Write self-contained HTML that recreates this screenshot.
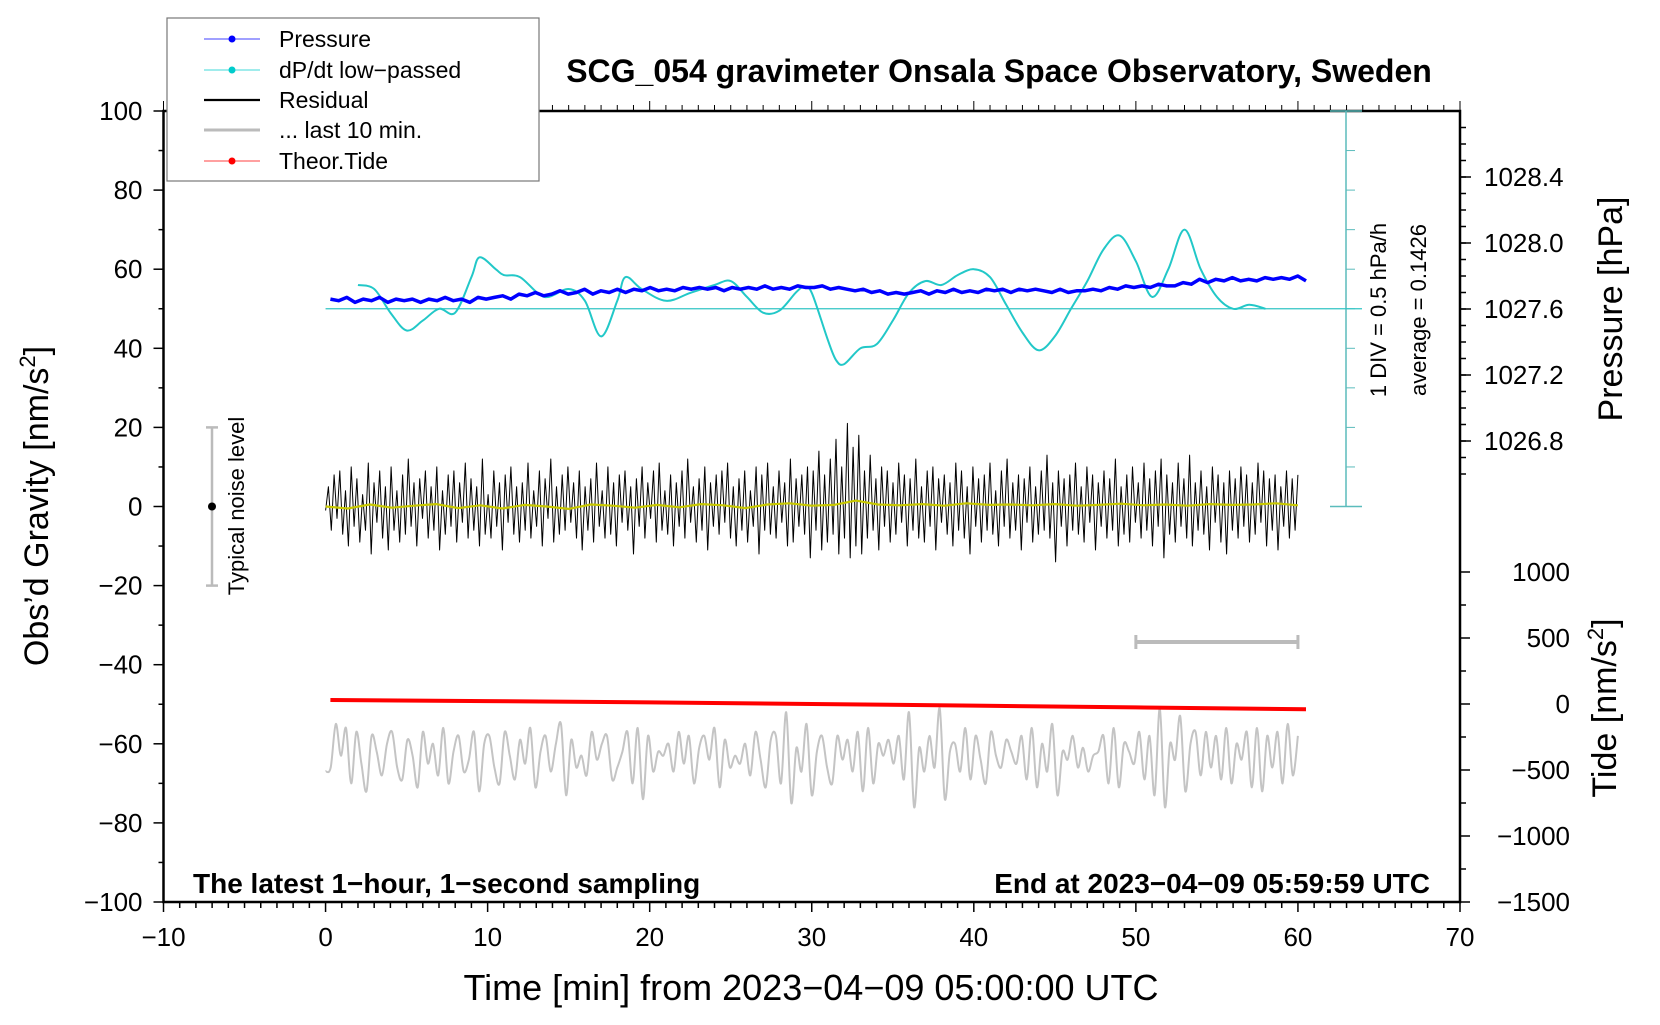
<!DOCTYPE html>
<html><head><meta charset="utf-8"><style>
html,body{margin:0;padding:0;background:#fff;}
svg text{font-family:"Liberation Sans",sans-serif;}
</style></head><body>
<svg id="chart" width="1660" height="1020" viewBox="0 0 1660 1020" xmlns="http://www.w3.org/2000/svg">
<g id="axes"></g>
<g id="marks"></g>
<text x="999" y="82" font-size="32" font-weight="bold" text-anchor="middle">SCG_054 gravimeter Onsala Space Observatory, Sweden</text>
<text x="811" y="1000" font-size="36" text-anchor="middle">Time [min] from 2023−04−09 05:00:00 UTC</text>
<text transform="translate(48,506) rotate(-90)" font-size="34" text-anchor="middle">Obs’d Gravity [nm/s<tspan font-size="22" dy="-13">2</tspan><tspan dy="13">]</tspan></text>
<text transform="translate(1622,309) rotate(-90)" font-size="34" text-anchor="middle">Pressure [hPa]</text>
<text transform="translate(1616,708) rotate(-90)" font-size="34" text-anchor="middle">Tide [nm/s<tspan font-size="22" dy="-13">2</tspan><tspan dy="13">]</tspan></text>
<text x="193" y="893" font-size="28" font-weight="bold">The latest 1−hour, 1−second sampling</text>
<text x="1430" y="893" font-size="28" font-weight="bold" text-anchor="end">End at 2023−04−09 05:59:59 UTC</text>
<text transform="translate(1386,310) rotate(-90)" font-size="22" text-anchor="middle">1 DIV = 0.5 hPa/h</text>
<text transform="translate(1426,310) rotate(-90)" font-size="22" text-anchor="middle">average = 0.1426</text>
<text transform="translate(244,506) rotate(-90)" font-size="22" text-anchor="middle">Typical noise level</text>
<g>
<rect x="167" y="18" width="372" height="163" fill="#fff" stroke="#777" stroke-width="1.2"/>
<line x1="204" y1="39" x2="260" y2="39" stroke="#00f" stroke-width="0.8"/><circle cx="232" cy="39" r="3.5" fill="#00f"/>
<text x="279" y="47" font-size="23">Pressure</text>
<line x1="204" y1="70" x2="260" y2="70" stroke="#0cc" stroke-width="0.8"/><circle cx="232" cy="70" r="3.5" fill="#0cc"/>
<text x="279" y="78" font-size="23">dP/dt low−passed</text>
<line x1="204" y1="100" x2="260" y2="100" stroke="#000" stroke-width="2.2"/>
<text x="279" y="108" font-size="23">Residual</text>
<line x1="204" y1="130" x2="260" y2="130" stroke="#bbb" stroke-width="3"/>
<text x="279" y="138" font-size="23">... last 10 min.</text>
<line x1="204" y1="161" x2="260" y2="161" stroke="#f00" stroke-width="0.8"/><circle cx="232" cy="161" r="3.5" fill="#f00"/>
<text x="279" y="169" font-size="23">Theor.Tide</text>
</g>
</svg>
<script>
// ---- data ----
const xTicks = [-10,0,10,20,30,40,50,60,70];
const yTicks = [100,80,60,40,20,0,-20,-40,-60,-80,-100];
const pTicks = [1028.4,1028.0,1027.6,1027.2,1026.8];
const tideTicks = [1000,500,0,-500,-1000,-1500];
const pressureV = [1027.66,1027.65,1027.67,1027.64,1027.66,1027.65,1027.67,1027.64,1027.66,1027.65,1027.66,1027.64,1027.66,1027.65,1027.67,1027.65,1027.66,1027.64,1027.67,1027.66,1027.67,1027.68,1027.66,1027.69,1027.68,1027.70,1027.68,1027.69,1027.71,1027.69,1027.70,1027.72,1027.69,1027.71,1027.70,1027.72,1027.70,1027.72,1027.71,1027.73,1027.71,1027.72,1027.71,1027.73,1027.72,1027.73,1027.72,1027.73,1027.71,1027.73,1027.72,1027.73,1027.72,1027.74,1027.72,1027.73,1027.72,1027.74,1027.73,1027.73,1027.74,1027.72,1027.73,1027.72,1027.71,1027.72,1027.70,1027.71,1027.69,1027.70,1027.69,1027.70,1027.71,1027.69,1027.71,1027.70,1027.72,1027.70,1027.71,1027.70,1027.72,1027.71,1027.72,1027.70,1027.72,1027.71,1027.72,1027.71,1027.70,1027.72,1027.70,1027.71,1027.71,1027.72,1027.71,1027.73,1027.72,1027.74,1027.73,1027.74,1027.73,1027.75,1027.74,1027.74,1027.76,1027.75,1027.78,1027.76,1027.78,1027.77,1027.79,1027.77,1027.78,1027.77,1027.79,1027.78,1027.79,1027.78,1027.80,1027.77];
const dpdtT = [2,3,4,5,6,7,8,9,9.5,10.5,11,12,13.5,15,16,17,18,18.5,19.5,21,22.5,24,25,26,27,28,29,29.5,30,31,31.5,32,33,34,35,36,37,38,39,40,41,42,43,44,45,46,47,48,49,50,51,52,53,54,55,56,57,58];
const dpdtV = [56,55,49,44.5,47,50,49,58,63,60,58.5,58,53,55,52,43,52,58,55,52,54,56,57,53,49,49.5,54,55.5,54,42,37,36,40,41,47,54,57,56,58.5,60,58,51,44,39.5,43,50,57,65,68.5,62,53,60,70,60,53,50,51,50];
const residual = [-1,5,-6,8,-3,9,-7,4,-10,10,-5,7,-9,3,-6,11,-12,6,-4,9,-8,5,-11,10,-6,4,-9,8,-7,12,-5,6,-10,7,-3,9,-8,5,-6,10,-11,4,-7,8,-5,9,-9,6,-4,11,-8,7,-6,5,-10,12,-7,3,-8,9,-5,6,-11,8,-4,10,-7,5,-9,6,-6,11,-8,4,-5,9,-10,7,-3,12,-9,5,-7,8,-6,10,-4,6,-8,9,-11,5,-6,7,-9,11,-5,4,-8,10,-7,6,-10,8,-4,9,-6,5,-12,7,-5,10,-8,6,-3,9,-9,11,-6,4,-7,8,-10,6,-5,9,-8,12,-4,5,-9,7,-6,10,-11,6,-5,8,-7,9,-4,11,-8,5,-10,7,-6,9,-9,4,-5,10,-12,8,-6,11,-7,5,-8,9,-4,6,-10,12,-9,7,-5,8,-7,10,-13,9,-6,14,-11,8,-9,12,-7,17,-12,10,-8,21,-13,15,-10,18,-12,9,-8,13,-6,7,-11,10,-5,9,-9,6,-7,11,-4,8,-10,7,-6,12,-8,5,-9,9,-5,10,-11,7,-4,8,-7,6,-10,11,-6,9,-8,5,-12,10,-5,7,-9,8,-6,11,-7,4,-10,9,-5,12,-8,6,-6,8,-11,7,-4,10,-9,5,-7,9,-6,13,-8,6,-14,9,-5,7,-10,8,-6,11,-7,5,-9,10,-4,8,-11,6,-5,9,-8,7,-6,12,-10,5,-7,8,-9,10,-4,6,-8,11,-6,7,-10,9,-5,12,-13,8,-7,6,-9,11,-5,7,-8,13,-10,6,-6,9,-7,5,-11,10,-4,8,-9,6,-12,9,-6,7,-8,10,-5,8,-9,6,-7,11,-4,9,-10,7,-6,8,-11,5,-5,9,-8,7,-6,8];
const smooth = [0,-0.5,0.5,-0.3,0.2,0.6,-0.4,0.3,-0.5,0.4,0,-0.6,0.5,0.2,-0.3,0.4,-0.2,0.6,0.3,-0.4,0.5,0.8,0.2,0.4,1.5,0.5,0.3,0.6,0.2,0.8,0.4,0.5,0.3,0.6,0.2,0.4,0.7,0.3,0.5,0.2,0.6,0.4,0.5,0.8,0.3];
const last10 = [-67,-66,-55,-63,-56,-70,-57,-65,-72,-58,-62,-68,-60,-57,-66,-69,-59,-63,-71,-57,-65,-60,-68,-56,-70,-62,-58,-67,-64,-57,-72,-60,-58,-66,-70,-57,-63,-69,-59,-65,-56,-71,-62,-58,-67,-60,-55,-73,-59,-66,-63,-68,-57,-64,-60,-58,-69,-66,-62,-57,-70,-56,-74,-58,-67,-62,-63,-60,-67,-57,-65,-58,-70,-61,-58,-64,-56,-71,-59,-66,-63,-65,-60,-68,-57,-64,-71,-59,-58,-70,-52,-75,-61,-67,-55,-73,-62,-58,-66,-70,-58,-64,-59,-67,-57,-72,-56,-70,-60,-63,-59,-65,-58,-69,-52,-76,-61,-67,-58,-66,-51,-74,-62,-60,-67,-56,-69,-58,-64,-70,-57,-63,-66,-59,-62,-65,-58,-69,-56,-71,-60,-67,-55,-73,-62,-64,-58,-66,-61,-67,-63,-62,-58,-70,-56,-71,-60,-62,-65,-57,-69,-58,-73,-51,-76,-60,-64,-53,-72,-60,-57,-68,-57,-66,-58,-69,-56,-70,-60,-64,-57,-71,-56,-72,-58,-66,-57,-70,-55,-68,-58];
const tideT = [0.3,10,20,30,40,50,60.5];
const tideV = [30,22,12,0,-12,-26,-40];

// ---- scales ----
const X0 = 163.5, X1 = 1460, Y0 = 111, Y1 = 902;
const xs = t => X0 + (t + 10) / 80 * (X1 - X0);
const ys = g => Y0 + (100 - g) / 200 * (Y1 - Y0);
const ps = p => 309 - (p - 1027.6) * 165;
const ts = v => 704 - v * 0.132;
const NS = 'http://www.w3.org/2000/svg';
function mk(tag, parent, attrs) { const e = document.createElementNS(NS, tag); for (const k in attrs) e.setAttribute(k, attrs[k]); parent.appendChild(e); return e; }
const axes = document.getElementById('axes'), marks = document.getElementById('marks');

const frame = mk('rect', axes, {x:X0, y:Y0, width:X1-X0, height:Y1-Y0, fill:'none', stroke:'#000', 'stroke-width':2.5});


for (let t = -10; t <= 70; t++) {
  const maj = t % 10 === 0;
  mk('line', axes, {x1:xs(t), x2:xs(t), y1:Y1, y2:Y1 + (maj ? 10 : 6), stroke:'#000', 'stroke-width':1.5});
  mk('line', axes, {x1:xs(t), x2:xs(t), y1:Y0, y2:Y0 - (maj ? 10 : 6), stroke:'#000', 'stroke-width':1});
}
xTicks.forEach(t => {
  const e = mk('text', axes, {x:xs(t), y:946, 'font-size':26, 'text-anchor':'middle'});
  
  
  e.textContent = t < 0 ? '−' + (-t) : String(t);
});
for (let g = -100; g <= 100; g += 10) {
  const maj = g % 20 === 0;
  mk('line', axes, {x1:X0 - (maj ? 10 : 5), x2:X0, y1:ys(g), y2:ys(g), stroke:'#000', 'stroke-width':1.5});
}
yTicks.forEach(g => {
  const e = mk('text', axes, {x:X0 - 21, y:ys(g) + 9, 'font-size':26, 'text-anchor':'end'});
  
  
  e.textContent = g < 0 ? '−' + (-g) : String(g);
});
for (let k = 0; k <= 25; k++) {
  const p = 1026.6 + k * 0.1, y = ps(p);
  if (y < Y0 + 2 || y > 506) continue;
  mk('line', axes, {x1:X1, x2:X1 + 6, y1:y, y2:y, stroke:'#000', 'stroke-width':1.5});
}
pTicks.forEach(p => {
  mk('line', axes, {x1:X1, x2:X1 + 11, y1:ps(p), y2:ps(p), stroke:'#000', 'stroke-width':1.5});
  const e = mk('text', axes, {x:1484, y:ps(p) + 9, 'font-size':26});
  
  
  e.textContent = p.toFixed(1);
});
for (let v = -1500; v <= 1000; v += 250) {
  const maj = v % 500 === 0;
  mk('line', axes, {x1:X1, x2:X1 + (maj ? 10 : 6), y1:ts(v), y2:ts(v), stroke:'#000', 'stroke-width':1.5});
}
tideTicks.forEach(v => {
  const e = mk('text', axes, {x:1570, y:ts(v) + 9, 'font-size':26, 'text-anchor':'end'});
  
  
  e.textContent = v < 0 ? '−' + (-v) : String(v);
});
mk('line', axes, {x1:1346, x2:1346, y1:Y0, y2:ys(0), stroke:'#5bbcbc', 'stroke-width':1.5});
for (let g = 0; g <= 100; g += 10) mk('line', axes, {x1:1346, x2:1355, y1:ys(g), y2:ys(g), stroke:'#5bbcbc', 'stroke-width':1});
mk('line', axes, {x1:1330, x2:1362, y1:ys(0), y2:ys(0), stroke:'#5bbcbc', 'stroke-width':1.5});
mk('line', axes, {x1:1330, x2:1362, y1:Y0, y2:Y0, stroke:'#5bbcbc', 'stroke-width':1.5});
mk('line', axes, {x1:xs(0), x2:1362, y1:ys(50), y2:ys(50), stroke:'#33c4c4', 'stroke-width':1.2});

mk('line', axes, {x1:212, x2:212, y1:ys(20), y2:ys(-20), stroke:'#bbb', 'stroke-width':2.5});
mk('line', axes, {x1:206, x2:218, y1:ys(20), y2:ys(20), stroke:'#bbb', 'stroke-width':2.5});
mk('line', axes, {x1:206, x2:218, y1:ys(-20), y2:ys(-20), stroke:'#bbb', 'stroke-width':2.5});
mk('circle', axes, {cx:212, cy:ys(0), r:4, fill:'#000'});
mk('line', axes, {x1:xs(50), x2:xs(60), y1:642, y2:642, stroke:'#bbb', 'stroke-width':4});
mk('line', axes, {x1:xs(50), x2:xs(50), y1:635, y2:649, stroke:'#bbb', 'stroke-width':3});
mk('line', axes, {x1:xs(60), x2:xs(60), y1:635, y2:649, stroke:'#bbb', 'stroke-width':3});

function poly(ptsArr, stroke, w, name) {
  const e = mk('polyline', marks, {points:ptsArr.map(p => p[0].toFixed(1) + ',' + p[1].toFixed(1)).join(' '), fill:'none', stroke:stroke, 'stroke-width':w, 'stroke-linejoin':'round'});
  
  
  return e;
}
function smoothPath(pts, stroke, w, name) {
  let d = 'M' + pts[0][0] + ',' + pts[0][1];
  for (let i = 0; i < pts.length - 1; i++) {
    const p0 = pts[Math.max(i - 1, 0)], p1 = pts[i], p2 = pts[i + 1], p3 = pts[Math.min(i + 2, pts.length - 1)];
    d += ' C' + (p1[0] + (p2[0] - p0[0]) / 6).toFixed(1) + ',' + (p1[1] + (p2[1] - p0[1]) / 6).toFixed(1) + ' ' + (p2[0] - (p3[0] - p1[0]) / 6).toFixed(1) + ',' + (p2[1] - (p3[1] - p1[1]) / 6).toFixed(1) + ' ' + p2[0].toFixed(1) + ',' + p2[1].toFixed(1);
  }
  const e = mk('path', marks, {d:d, fill:'none', stroke:stroke, 'stroke-width':w});
  
  
}
const spread = (arr, a, b) => arr.map((v, i) => [a + (b - a) * i / (arr.length - 1), v]);
smoothPath(spread(last10, 0, 60).map(p => [xs(p[0]), ys(p[1])]), '#c4c4c4', 2, 'last-10-min-line');
poly(tideT.map((t, i) => [xs(t), ts(tideV[i])]), '#f00', 4, 'tide-line');
poly(spread(residual, 0, 60).map(p => [xs(p[0]), ys(p[1])]), '#000', 1, 'residual-line');
poly(spread(smooth, 0, 60).map(p => [xs(p[0]), ys(p[1])]), '#c8c800', 2.2, 'residual-smoothed-line');
smoothPath(dpdtT.map((t, i) => [xs(t), ys(dpdtV[i])]), '#22c8c8', 2, 'dpdt-line');
poly(spread(pressureV, 0.3, 60.5).map(p => [xs(p[0]), ps(p[1])]), '#00f', 3.5, 'pressure-line');
</script>
</body></html>
